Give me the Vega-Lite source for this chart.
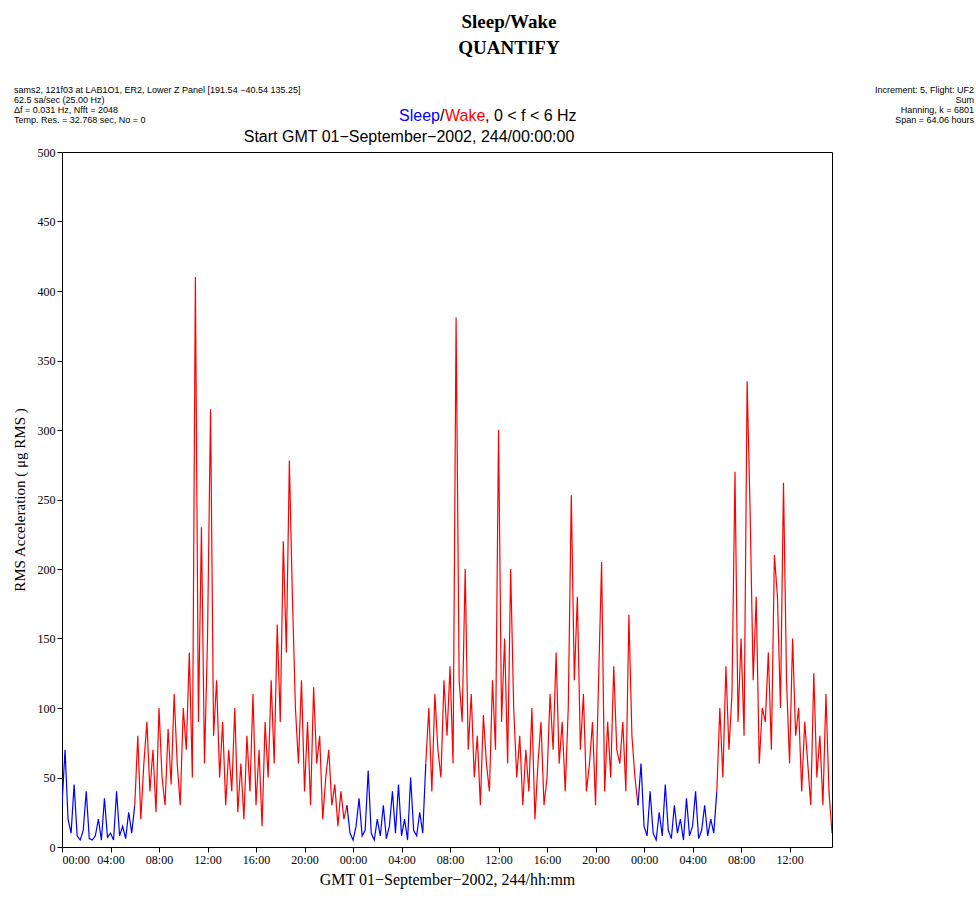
{
"$schema":"https://vega.github.io/schema/vega-lite/v6.json",
"width":770,"height":695,
"autosize":{"type":"none"},
"padding":{"left":62,"top":152,"right":144,"bottom":53},
"background":"white",
"config":{"view":{"stroke":"black","strokeWidth":1}},
"datasets":{
"sleep1":[{"t":0,"v":30},{"t":0.25,"v":70},{"t":0.5,"v":20},{"t":0.75,"v":10},{"t":1,"v":45},{"t":1.25,"v":8},{"t":1.5,"v":5},{"t":1.75,"v":12},{"t":2,"v":40},{"t":2.25,"v":6},{"t":2.5,"v":5},{"t":2.75,"v":8},{"t":3,"v":20},{"t":3.25,"v":5},{"t":3.5,"v":35},{"t":3.75,"v":7},{"t":4,"v":10},{"t":4.25,"v":5},{"t":4.5,"v":40},{"t":4.75,"v":8},{"t":5,"v":15},{"t":5.25,"v":6},{"t":5.5,"v":25},{"t":5.75,"v":10},{"t":6,"v":30}],
"wake1":[{"t":6,"v":30},{"t":6.25,"v":80},{"t":6.5,"v":20},{"t":6.75,"v":60},{"t":7,"v":90},{"t":7.25,"v":40},{"t":7.5,"v":70},{"t":7.75,"v":25},{"t":8,"v":100},{"t":8.25,"v":50},{"t":8.5,"v":30},{"t":8.75,"v":85},{"t":9,"v":45},{"t":9.25,"v":110},{"t":9.5,"v":60},{"t":9.75,"v":30},{"t":10,"v":100},{"t":10.25,"v":70},{"t":10.5,"v":140},{"t":10.75,"v":50},{"t":11,"v":410},{"t":11.25,"v":90},{"t":11.5,"v":230},{"t":11.75,"v":60},{"t":12,"v":150},{"t":12.25,"v":315},{"t":12.5,"v":80},{"t":12.75,"v":120},{"t":13,"v":50},{"t":13.25,"v":90},{"t":13.5,"v":30},{"t":13.75,"v":70},{"t":14,"v":40},{"t":14.25,"v":100},{"t":14.5,"v":25},{"t":14.75,"v":60},{"t":15,"v":20},{"t":15.25,"v":80},{"t":15.5,"v":40},{"t":15.75,"v":110},{"t":16,"v":30},{"t":16.25,"v":70},{"t":16.5,"v":15},{"t":16.75,"v":90},{"t":17,"v":50},{"t":17.25,"v":120},{"t":17.5,"v":60},{"t":17.75,"v":160},{"t":18,"v":90},{"t":18.25,"v":220},{"t":18.5,"v":140},{"t":18.75,"v":278},{"t":19,"v":180},{"t":19.25,"v":100},{"t":19.5,"v":60},{"t":19.75,"v":120},{"t":20,"v":40},{"t":20.25,"v":90},{"t":20.5,"v":30},{"t":20.75,"v":115},{"t":21,"v":60},{"t":21.25,"v":80},{"t":21.5,"v":20},{"t":21.75,"v":50},{"t":22,"v":70},{"t":22.25,"v":30},{"t":22.5,"v":45},{"t":22.75,"v":15},{"t":23,"v":40},{"t":23.25,"v":20},{"t":23.5,"v":30}],
"sleep2":[{"t":23.5,"v":30},{"t":23.75,"v":10},{"t":24,"v":5},{"t":24.25,"v":15},{"t":24.5,"v":35},{"t":24.75,"v":8},{"t":25,"v":12},{"t":25.25,"v":55},{"t":25.5,"v":10},{"t":25.75,"v":5},{"t":26,"v":20},{"t":26.25,"v":8},{"t":26.5,"v":30},{"t":26.75,"v":6},{"t":27,"v":15},{"t":27.25,"v":40},{"t":27.5,"v":10},{"t":27.75,"v":45},{"t":28,"v":8},{"t":28.25,"v":20},{"t":28.5,"v":5},{"t":28.75,"v":50},{"t":29,"v":12},{"t":29.25,"v":8},{"t":29.5,"v":25},{"t":29.75,"v":10},{"t":30,"v":60}],
"wake2":[{"t":30,"v":60},{"t":30.25,"v":100},{"t":30.5,"v":40},{"t":30.75,"v":110},{"t":31,"v":70},{"t":31.25,"v":50},{"t":31.5,"v":120},{"t":31.75,"v":80},{"t":32,"v":130},{"t":32.25,"v":60},{"t":32.5,"v":381},{"t":32.75,"v":120},{"t":33,"v":90},{"t":33.25,"v":200},{"t":33.5,"v":70},{"t":33.75,"v":110},{"t":34,"v":50},{"t":34.25,"v":80},{"t":34.5,"v":30},{"t":34.75,"v":95},{"t":35,"v":60},{"t":35.25,"v":40},{"t":35.5,"v":120},{"t":35.75,"v":70},{"t":36,"v":300},{"t":36.25,"v":90},{"t":36.5,"v":150},{"t":36.75,"v":60},{"t":37,"v":200},{"t":37.25,"v":100},{"t":37.5,"v":50},{"t":37.75,"v":80},{"t":38,"v":30},{"t":38.25,"v":70},{"t":38.5,"v":40},{"t":38.75,"v":100},{"t":39,"v":20},{"t":39.25,"v":60},{"t":39.5,"v":90},{"t":39.75,"v":30},{"t":40,"v":50},{"t":40.25,"v":110},{"t":40.5,"v":70},{"t":40.75,"v":140},{"t":41,"v":60},{"t":41.25,"v":90},{"t":41.5,"v":40},{"t":41.75,"v":100},{"t":42,"v":253},{"t":42.25,"v":120},{"t":42.5,"v":180},{"t":42.75,"v":70},{"t":43,"v":110},{"t":43.25,"v":40},{"t":43.5,"v":60},{"t":43.75,"v":90},{"t":44,"v":30},{"t":44.25,"v":120},{"t":44.5,"v":205},{"t":44.75,"v":40},{"t":45,"v":90},{"t":45.25,"v":50},{"t":45.5,"v":130},{"t":45.75,"v":70},{"t":46,"v":60},{"t":46.25,"v":90},{"t":46.5,"v":40},{"t":46.75,"v":167},{"t":47,"v":80},{"t":47.25,"v":50},{"t":47.5,"v":30}],
"sleep3":[{"t":47.5,"v":30},{"t":47.75,"v":60},{"t":48,"v":15},{"t":48.25,"v":8},{"t":48.5,"v":40},{"t":48.75,"v":10},{"t":49,"v":5},{"t":49.25,"v":25},{"t":49.5,"v":8},{"t":49.75,"v":45},{"t":50,"v":12},{"t":50.25,"v":6},{"t":50.5,"v":30},{"t":50.75,"v":10},{"t":51,"v":20},{"t":51.25,"v":5},{"t":51.5,"v":35},{"t":51.75,"v":8},{"t":52,"v":15},{"t":52.25,"v":40},{"t":52.5,"v":6},{"t":52.75,"v":12},{"t":53,"v":30},{"t":53.25,"v":8},{"t":53.5,"v":20},{"t":53.75,"v":10},{"t":54,"v":40}],
"wake3":[{"t":54,"v":40},{"t":54.25,"v":100},{"t":54.5,"v":50},{"t":54.75,"v":130},{"t":55,"v":70},{"t":55.25,"v":110},{"t":55.5,"v":270},{"t":55.75,"v":90},{"t":56,"v":150},{"t":56.25,"v":80},{"t":56.5,"v":335},{"t":56.75,"v":240},{"t":57,"v":120},{"t":57.25,"v":180},{"t":57.5,"v":60},{"t":57.75,"v":100},{"t":58,"v":90},{"t":58.25,"v":140},{"t":58.5,"v":70},{"t":58.75,"v":210},{"t":59,"v":180},{"t":59.25,"v":100},{"t":59.5,"v":262},{"t":59.75,"v":120},{"t":60,"v":60},{"t":60.25,"v":150},{"t":60.5,"v":80},{"t":60.75,"v":100},{"t":61,"v":40},{"t":61.25,"v":90},{"t":61.5,"v":60},{"t":61.75,"v":30},{"t":62,"v":125},{"t":62.25,"v":50},{"t":62.5,"v":80},{"t":62.75,"v":30},{"t":63,"v":110},{"t":63.25,"v":40},{"t":63.5,"v":10}]
},
"data":{"values":[]},
"layer":[
{"data":{"name":"sleep1"},
 "mark":{"type":"line","color":"#0000ff","strokeWidth":1.2,"clip":true},
 "encoding":{"x":{"field":"t","type":"quantitative","scale":{"domain":[0,63.5],"nice":false},
   "axis":{"values":[0,4,8,12,16,20,24,28,32,36,40,44,48,52,56,60],"labelExpr":"(datum.value%24<10?'0':'')+(datum.value%24)+':00'","grid":false,"domain":false,"tickColor":"black","labelFont":"Liberation Serif","labelFontSize":12,"labelColor":"black","title":"GMT 01\u2212September\u22122002, 244/hh:mm","titleFont":"Liberation Serif","titleFontSize":16,"titleFontWeight":"normal","titleColor":"black","titlePadding":6}},
  "y":{"field":"v","type":"quantitative","scale":{"domain":[0,500],"nice":false},
   "axis":{"values":[0,50,100,150,200,250,300,350,400,450,500],"grid":false,"domain":false,"tickColor":"black","labelFont":"Liberation Serif","labelFontSize":12,"labelColor":"black","title":"RMS Acceleration ( \u03bcg RMS )","titleFont":"Liberation Serif","titleFontSize":15,"titleFontWeight":"normal","titleColor":"black","titlePadding":10}}}},
{"data":{"name":"wake1"},"mark":{"type":"line","color":"#ff0000","strokeWidth":1.2,"clip":true},"encoding":{"x":{"field":"t","type":"quantitative"},"y":{"field":"v","type":"quantitative"}}},
{"data":{"name":"sleep2"},"mark":{"type":"line","color":"#0000ff","strokeWidth":1.2,"clip":true},"encoding":{"x":{"field":"t","type":"quantitative"},"y":{"field":"v","type":"quantitative"}}},
{"data":{"name":"wake2"},"mark":{"type":"line","color":"#ff0000","strokeWidth":1.2,"clip":true},"encoding":{"x":{"field":"t","type":"quantitative"},"y":{"field":"v","type":"quantitative"}}},
{"data":{"name":"sleep3"},"mark":{"type":"line","color":"#0000ff","strokeWidth":1.2,"clip":true},"encoding":{"x":{"field":"t","type":"quantitative"},"y":{"field":"v","type":"quantitative"}}},
{"data":{"name":"wake3"},"mark":{"type":"line","color":"#ff0000","strokeWidth":1.2,"clip":true},"encoding":{"x":{"field":"t","type":"quantitative"},"y":{"field":"v","type":"quantitative"}}},
{"data":{"values":[{"a":1}]},"mark":{"type":"text","text":"Sleep/Wake","x":447,"y":-130,"font":"Liberation Serif","fontSize":19,"fontWeight":"bold","align":"center"},"encoding":{}},
{"data":{"values":[{"a":1}]},"mark":{"type":"text","text":"QUANTIFY","x":447,"y":-104,"font":"Liberation Serif","fontSize":19,"fontWeight":"bold","align":"center"},"encoding":{}},
{"data":{"values":[{"a":1}]},"mark":{"type":"text","text":["sams2, 121f03 at LAB1O1, ER2, Lower Z Panel [191.54 \u221240.54 135.25]","62.5 sa/sec (25.00 Hz)","\u0394f = 0.031 Hz,  Nfft = 2048","Temp. Res. = 32.768 sec, No = 0"],"x":-48,"y":-66,"font":"Liberation Sans","fontSize":9,"align":"left","baseline":"top","lineHeight":10},"encoding":{}},
{"data":{"values":[{"a":1}]},"mark":{"type":"text","text":["Increment: 5, Flight: UF2","Sum","Hanning, k = 6801","Span = 64.06 hours"],"x":912,"y":-66,"font":"Liberation Sans","fontSize":9,"align":"right","baseline":"top","lineHeight":10},"encoding":{}},
{"data":{"values":[{"a":1}]},"mark":{"type":"text","text":"Sleep","x":378,"y":-36,"font":"Liberation Sans","fontSize":16,"align":"right","color":"#0000ff"},"encoding":{}},
{"data":{"values":[{"a":1}]},"mark":{"type":"text","text":"/","x":378,"y":-36,"font":"Liberation Sans","fontSize":16,"align":"left","color":"black"},"encoding":{}},
{"data":{"values":[{"a":1}]},"mark":{"type":"text","text":"Wake","x":383,"y":-36,"font":"Liberation Sans","fontSize":16,"align":"left","color":"#ff0000"},"encoding":{}},
{"data":{"values":[{"a":1}]},"mark":{"type":"text","text":", 0 < f < 6 Hz","x":423,"y":-36,"font":"Liberation Sans","fontSize":16,"align":"left","color":"black"},"encoding":{}},
{"data":{"values":[{"a":1}]},"mark":{"type":"text","text":"Start GMT 01\u2212September\u22122002, 244/00:00:00","x":347,"y":-15,"font":"Liberation Sans","fontSize":16,"align":"center","color":"black"},"encoding":{}}
]
}
